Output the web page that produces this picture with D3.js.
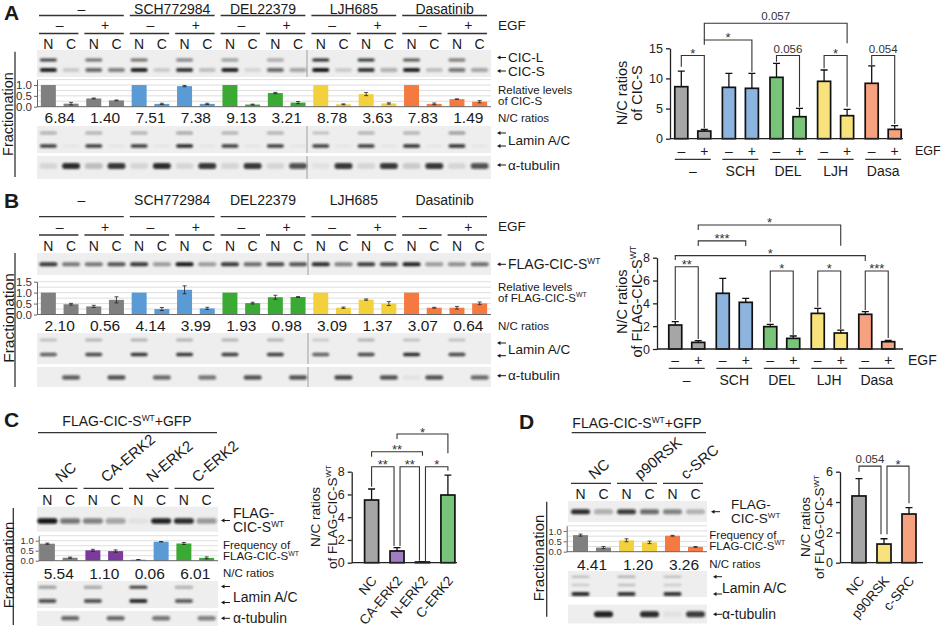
<!DOCTYPE html>
<html lang="en">
<head>
<meta charset="utf-8">
<title>CIC-S fractionation</title>
<script src="https://d3js.org/d3.v7.min.js"></script>
<style>
    body { margin: 0; background: #fff; }
    svg { font-family: Arial, "Liberation Sans", sans-serif; }
</style>
</head>
<body>
<script>
// ---------- data ----------
var treatments = ['\u2013', 'SCH772984', 'DEL22379', 'LJH685', 'Dasatinib'];
var treatShort = ['\u2013', 'SCH', 'DEL', 'LJH', 'Dasa'];
var egfSigns = ['\u2013', '+'];
var fracs = ['N', 'C'];

// A: western blot band intensities, lane order N-,C-,N+,C+ per treatment
var cicL = [0.8, 0, 0.6, 0, 0.6, 0, 0.5, 0, 0.4, 0, 0.35, 0, 0.9, 0, 0.85, 0, 0.7, 0, 0.55, 0];
var cicS = [0.95, 0.15, 0.6, 0.5, 0.95, 0.15, 0.85, 0.2, 0.95, 0.1, 0.6, 0.35, 1, 0.15, 0.85, 0.3, 0.95, 0.2, 0.55, 0.35];
var laminUpA = [0.3, 0, 0.3, 0, 0.3, 0, 0.35, 0, 0.3, 0, 0.3, 0, 0.2, 0, 0.3, 0, 0.3, 0, 0.4, 0];
var laminLoA = [0.8, 0.03, 0.8, 0.03, 0.8, 0.03, 0.9, 0.03, 0.8, 0.03, 0.8, 0.03, 0.8, 0.03, 0.8, 0.03, 0.85, 0.03, 0.85, 0.03];
var tubA = [0.1, 0.9, 0.2, 0.85, 0.1, 0.9, 0.1, 0.85, 0.1, 0.85, 0.1, 0.7, 0.05, 0.85, 0.1, 0.85, 0.15, 0.85, 0.1, 0.7];
// A: relative levels of CIC-S
var relA = [1.0, 0.14, 0.38, 0.29, 1.0, 0.13, 0.95, 0.13, 1.0, 0.10, 0.63, 0.19, 1.0, 0.11, 0.58, 0.15, 1.0, 0.13, 0.35, 0.23];
var relAErr = [0, 0.06, 0.02, 0.02, 0, 0.03, 0.03, 0.03, 0, 0.02, 0.03, 0.05, 0, 0.02, 0.07, 0.03, 0, 0.04, 0.01, 0.05];
var ratioA = ['6.84', '1.40', '7.51', '7.38', '9.13', '3.21', '8.78', '3.63', '7.83', '1.49'];
// A: N/C ratios of CIC-S (bar chart)
var ncA = [8.63, 1.27, 8.52, 8.36, 10.18, 3.65, 9.52, 3.82, 9.19, 1.55];
var ncASd = [2.57, 0.28, 2.33, 2.49, 2.32, 1.39, 1.88, 1.05, 2.91, 0.61];
// brackets: [bar i, bar j, label, top, left end, right end] in data units
var sigA = [[0, 1, '*', 13.8, 11.95, 1.75], [1, 3, '*', 16.38, 15.6, 11.12], [1, 7, '0.057', 19.15, 16.38, 15.83],
    [4, 5, '0.056', 13.8, 12.78, 5.31], [6, 7, '*', 13.8, 11.68, 5.31], [8, 9, '0.054', 13.8, 12.23, 2.44]];

// B
var flagB = [0.85, 0.55, 0.55, 0.7, 0.85, 0.4, 1.0, 0.4, 0.85, 0.6, 0.75, 0.7, 0.9, 0.5, 0.8, 0.75, 0.95, 0.4, 0.45, 0.6];
var laminUpB = [0.2, 0, 0.25, 0, 0.25, 0, 0.25, 0, 0.25, 0, 0.25, 0, 0.15, 0, 0.25, 0, 0.2, 0, 0.2, 0];
var laminLoB = [0.65, 0, 0.75, 0, 0.85, 0, 0.85, 0, 0.8, 0, 0.8, 0, 0.65, 0, 0.75, 0, 0.9, 0, 0.75, 0];
var tubB = [0, 0.65, 0, 0.7, 0, 0.6, 0, 0.55, 0, 0.7, 0, 0.7, 0, 0.75, 0, 0.7, 0.05, 0.7, 0, 0.6];
var relB = [1.0, 0.47, 0.37, 0.67, 1.0, 0.25, 1.13, 0.28, 1.0, 0.52, 0.79, 0.80, 1.0, 0.31, 0.68, 0.50, 1.0, 0.31, 0.31, 0.51];
var relBErr = [0, 0.04, 0.05, 0.14, 0, 0.07, 0.18, 0.05, 0, 0.04, 0.09, 0.02, 0, 0.03, 0.03, 0.09, 0, 0.02, 0.06, 0.06];
var ratioB = ['2.10', '0.56', '4.14', '3.99', '1.93', '0.98', '3.09', '1.37', '3.07', '0.64'];
var ncB = [2.10, 0.58, 4.88, 4.09, 1.96, 0.93, 3.12, 1.40, 3.04, 0.64];
var ncBSd = [0.29, 0.15, 1.31, 0.35, 0.20, 0.21, 0.44, 0.26, 0.23, 0.12];
var sigB = [[1, 7, '*', 10.87, 10.43, 9.05], [1, 3, '***', 9.47, 9.03, 9.03], [0, 8, '*', 8.18, 7.8, 7.71],
    [0, 1, '**', 7.21, 2.54, 0.88], [4, 5, '*', 6.84, 2.34, 1.23], [6, 7, '*', 6.84, 3.71, 1.75], [8, 9, '***', 6.84, 3.42, 0.96]];

// C
var groupsC = ['NC', 'CA-ERK2', 'N-ERK2', 'C-ERK2'];
var flagC = [1.0, 0.55, 0.5, 0.35, 0.05, 0.95, 0.9, 0.4];
var laminUpC = [0.4, 0, 0.35, 0, 0.8, 0, 0.3, 0];
var laminLoC = [0.7, 0, 0.7, 0, 0.9, 0, 0.65, 0];
var tubC = [0, 0.6, 0, 0.6, 0, 0.55, 0, 0.5];
var freqC = [0.85, 0.15, 0.52, 0.48, 0.05, 0.95, 0.86, 0.14];
var freqCErr = [0.03, 0.03, 0.05, 0.06, 0.01, 0.01, 0.05, 0.05];
var ratioC = ['5.54', '1.10', '0.06', '6.01'];
var ncC = [5.51, 1.03, 0.06, 5.95];
var ncCSd = [0.97, 0.29, 0.02, 1.75];
var sigC = [[0, 1, '**', 8.44, 6.68, 1.47], [1, 2, '**', 8.44, 1.47, 0.18], [2, 3, '*', 8.44, 0.09, 8.09],
    [0, 2, '**', 9.76, 9.32, 9.41], [1, 3, '*', 11.31, 10.87, 9.62]];

// D
var groupsD = ['NC', 'p90RSK', 'c-SRC'];
var flagD = [0.9, 0.3, 0.8, 0.6, 0.5, 0.25];
var laminUpD = [0.2, 0, 0.25, 0, 0.2, 0];
var laminMidD = [0.15, 0, 0.2, 0, 0.15, 0];
var laminLoD = [0.9, 0, 0.85, 0, 0.85, 0];
var tubD = [0, 0.95, 0, 0.9, 0.05, 0.8];
var freqD = [0.80, 0.20, 0.55, 0.45, 0.77, 0.23];
var freqDErr = [0.05, 0.05, 0.07, 0.06, 0.02, 0.02];
var ratioD = ['4.41', '1.20', '3.26'];
var ncD = [4.40, 1.23, 3.21];
var ncDSd = [1.14, 0.35, 0.42];
var sigD = [[0, 1, '0.054', 6.37, 6.0, 1.87], [1, 2, '*', 6.37, 1.87, 3.92]];

// palettes
var dark = { gray: '#808080', blue: '#5b9bd5', green: '#3aaa35', yellow: '#f2d13c', orange: '#f47a42', purple: '#7a3b9c' };
var light = { gray: '#a6a6a6', blue: '#8cb4de', green: '#78c57a', yellow: '#f7e27b', orange: '#f6a27e', purple: '#a07cc0' };
var keysAB = ['gray', 'blue', 'green', 'yellow', 'orange'];
var keysC = ['gray', 'purple', 'blue', 'green'];
var keysD = ['gray', 'yellow', 'orange'];

// ---------- canvas ----------
var svg = d3.select('body').append('svg').attr('width', 941).attr('height', 630);
svg.append('defs').append('filter').attr('id', 'blur')
    .attr('x', '-40%').attr('y', '-300%').attr('width', '180%').attr('height', '700%')
    .append('feGaussianBlur').attr('stdDeviation', 1);

var INK = '#1a1a1a';
function label(g, x, y, s, size, anchor) {
    return g.append('text').attr('x', x).attr('y', y).attr('font-size', size)
        .attr('text-anchor', anchor || 'start').attr('dominant-baseline', 'central')
        .attr('fill', INK).text(s);
}
// text with a superscript "WT" (alphabetic baseline, y is the visual centre)
function labelWT(g, x, y, pre, post, size, anchor) {
    var t = g.append('text').attr('x', x).attr('y', y + size * 0.36).attr('font-size', size)
        .attr('text-anchor', anchor || 'start').attr('fill', INK);
    t.append('tspan').text(pre);
    t.append('tspan').attr('font-size', size * 0.6).attr('dy', -size * 0.38).text('WT');
    if (post) t.append('tspan').attr('dy', size * 0.38).text(post);
    return t;
}
function hline(g, x1, x2, y) {
    g.append('line').attr('x1', x1).attr('x2', x2).attr('y1', y).attr('y2', y)
        .attr('stroke', '#333').attr('stroke-width', 1.3);
}
function arrow(g, x, y) {
    g.append('path').attr('d', 'M' + (x + 9) + ',' + y + 'H' + (x + 2)).attr('stroke', INK).attr('stroke-width', 1);
    g.append('path').attr('d', 'M' + x + ',' + y + 'l3.5,-2v4z').attr('fill', INK);
}
function mid(s, i) { return s(i) + s.bandwidth() / 2; }

function blot(g, lane, x0, x1, y0, y1, rows, splitX) {
    g.append('rect').attr('x', x0).attr('y', y0).attr('width', x1 - x0).attr('height', y1 - y0).attr('fill', '#eeeeee');
    rows.forEach(function (r) {
        g.append('g').attr('filter', 'url(#blur)').selectAll('rect').data(r.v).join('rect')
            .attr('x', function (d, i) { return mid(lane, i) - r.w / 2; })
            .attr('y', r.y - r.h / 2).attr('width', r.w).attr('height', r.h).attr('rx', r.h / 2)
            .attr('fill', '#141414').attr('fill-opacity', function (d) { return d; });
    });
    if (splitX) g.append('line').attr('x1', splitX).attr('x2', splitX).attr('y1', y0).attr('y2', y1)
        .attr('stroke', '#8a8a8a').attr('stroke-width', 0.8);
}

function mini(g, lane, xa, xb, y, ticks, vals, errs, col, tickSize) {
    var top = y.domain()[1];
    g.append('g').selectAll('line').data(d3.range(0.25, top + 1e-9, 0.25)).join('line')
        .attr('x1', xa).attr('x2', xb).attr('y1', function (d) { return y(d); }).attr('y2', function (d) { return y(d); })
        .attr('stroke', '#d6d6d6').attr('stroke-width', 0.8);
    var bw = 15;
    g.append('g').selectAll('rect').data(vals).join('rect')
        .attr('x', function (d, i) { return mid(lane, i) - bw / 2; })
        .attr('y', function (d) { return y(d); })
        .attr('width', bw).attr('height', function (d) { return y(0) - y(d); })
        .attr('fill', function (d, i) { return col(i); });
    var eb = g.append('g').attr('stroke', '#222').attr('stroke-width', 0.8).attr('fill', 'none');
    vals.forEach(function (d, i) {
        if (!errs[i]) return;
        var c = mid(lane, i), hi = y(d + errs[i]), lo = y(Math.max(0, d - errs[i]));
        eb.append('path').attr('d', 'M' + (c - 2) + ',' + hi + 'h4M' + c + ',' + hi + 'V' + lo + 'M' + (c - 2) + ',' + lo + 'h4');
    });
    g.append('line').attr('x1', xa).attr('x2', xb).attr('y1', y(0)).attr('y2', y(0)).attr('stroke', '#666');
    var ax = g.append('g').attr('transform', 'translate(' + xa + ',0)')
        .call(d3.axisLeft(y).tickValues(ticks).tickFormat(d3.format('.1f')).tickSize(3).tickSizeOuter(0).tickPadding(2));
    ax.attr('font-family', null);
    ax.selectAll('text').attr('font-size', tickSize).attr('fill', '#333');
    ax.selectAll('.domain, .tick line').attr('stroke', '#666');
}

function ncChart(g, cx, bw, y, vals, sds, fills, sig, xa, xb, ticks) {
    g.append('g').selectAll('rect').data(vals).join('rect')
        .attr('x', function (d, i) { return cx(i) - bw / 2; })
        .attr('y', function (d) { return y(d); })
        .attr('width', bw).attr('height', function (d) { return y(0) - y(d); })
        .attr('fill', function (d, i) { return fills[i]; })
        .attr('stroke', '#111').attr('stroke-width', 1.7);
    vals.forEach(function (d, i) {
        var t = y(d + sds[i]);
        g.append('path').attr('d', 'M' + cx(i) + ',' + y(d) + 'V' + t + 'M' + (cx(i) - 3.5) + ',' + t + 'h7')
            .attr('stroke', '#111').attr('stroke-width', 1.3).attr('fill', 'none');
    });
    g.append('line').attr('x1', xa).attr('x2', xb).attr('y1', y(0)).attr('y2', y(0))
        .attr('stroke', '#222').attr('stroke-width', 1.3);
    var ax = g.append('g').attr('transform', 'translate(' + xa + ',0)')
        .call(d3.axisLeft(y).tickValues(ticks).tickFormat(d3.format('d')).tickSize(4).tickSizeOuter(0).tickPadding(3));
    ax.attr('font-family', null);
    ax.selectAll('text').attr('font-size', 12.5).attr('fill', '#222');
    ax.selectAll('.domain, .tick line').attr('stroke', '#222').attr('stroke-width', 1.3);
    sig.forEach(function (b, k) {
        var nl = sig.some(function (o, m) { return m !== k && o[1] === b[0] && o[3] === b[3]; }) ? 3 : 0;
        var nr = sig.some(function (o, m) { return m !== k && o[0] === b[1] && o[3] === b[3]; }) ? -3 : 0;
        var x1 = cx(b[0]) + nl, x2 = cx(b[1]) + nr, yt = y(b[3]);
        g.append('path').attr('d', 'M' + x1 + ',' + y(b[4]) + 'V' + yt + 'H' + x2 + 'V' + y(b[5]))
            .attr('fill', 'none').attr('stroke', '#333').attr('stroke-width', 1.1);
        var star = b[2].charAt(0) === '*';
        g.append('text').attr('x', (x1 + x2) / 2).attr('y', star ? yt + 2.5 : yt - 3)
            .attr('text-anchor', 'middle').attr('font-size', star ? 13 : 11.5).attr('fill', '#333').text(b[2]);
    });
}
function yTitle(g, x1, x2, yc, line2pre, wt, size) {
    label(g, 0, 0, 'N/C ratios', size, 'middle').attr('transform', 'translate(' + x1 + ',' + yc + ') rotate(-90)');
    var t = wt ? labelWT(g, 0, 0, line2pre, null, size, 'middle') : label(g, 0, 0, line2pre, size, 'middle');
    t.attr('transform', 'translate(' + x2 + ',' + yc + ') rotate(-90)');
}
function fraction(g, x, yc, x2, y1, y2, size) {
    label(g, 0, 0, 'Fractionation', size, 'middle').attr('transform', 'translate(' + x + ',' + yc + ') rotate(-90)');
    g.append('line').attr('x1', x2).attr('x2', x2).attr('y1', y1).attr('y2', y2).attr('stroke', '#333').attr('stroke-width', 1.3);
}

// ---------- panels A & B : blots ----------
var laneAB = d3.scaleBand().domain(d3.range(20)).range([37, 491]);
function headerAB(g, yT, yTL, yE, yEL, yN) {
    treatments.forEach(function (t, k) {
        var x1 = laneAB(4 * k) + 2, x2 = laneAB(4 * k + 3) + laneAB.bandwidth() - 4;
        label(g, (x1 + x2) / 2, yT, t, 14, 'middle');
        hline(g, x1, x2, yTL);
        [0, 1].forEach(function (e) {
            var a = laneAB(4 * k + 2 * e) + 2, b = laneAB(4 * k + 2 * e + 1) + laneAB.bandwidth() - 4;
            label(g, (a + b) / 2 + 1, yE, egfSigns[e], 14, 'middle');
            hline(g, a, b, yEL);
        });
    });
    d3.range(20).forEach(function (i) { label(g, mid(laneAB, i), yN, fracs[i % 2], 14, 'middle'); });
    label(g, 498, yE, 'EGF', 13.5);
}
function ratios(g, lane, vals, y) {
    vals.forEach(function (v, p) { label(g, (mid(lane, 2 * p) + mid(lane, 2 * p + 1)) / 2, y, v, 15.5, 'middle'); });
}
var colAB = function (i) { return dark[keysAB[Math.floor(i / 4)]]; };

var gA = svg.append('g');
label(gA, 4, 12, 'A', 21).attr('font-weight', 'bold');
headerAB(gA, 8.5, 15.5, 25, 33.5, 43.5);
blot(gA, laneAB, 37, 491, 50, 77, [{ y: 60, w: 17, h: 3.2, v: cicL }, { y: 70, w: 17, h: 3.8, v: cicS }], 307);
mini(gA, laneAB, 37, 491, d3.scaleLinear().domain([0, 1.25]).range([106.7, 79.6]), [0, 0.5, 1], relA, relAErr, colAB, 11.5);
ratios(gA, laneAB, ratioA, 117.5);
blot(gA, laneAB, 37, 491, 126, 153, [{ y: 133, w: 17, h: 3, v: laminUpA }, { y: 146, w: 17, h: 3.6, v: laminLoA }], 307);
blot(gA, laneAB, 37, 491, 156, 179, [{ y: 166, w: 18, h: 6, v: tubA }], 307);
arrow(gA, 497, 57.5); label(gA, 508, 57, 'CIC-L', 13.5);
arrow(gA, 497, 71); label(gA, 508, 71.5, 'CIC-S', 13.5);
label(gA, 498, 90, 'Relative levels', 11.5); label(gA, 498, 101, 'of CIC-S', 11.5);
label(gA, 498, 117.5, 'N/C ratios', 11.5);
arrow(gA, 497, 133); arrow(gA, 497, 146); label(gA, 508, 140, 'Lamin A/C', 13.5);
arrow(gA, 497, 165); label(gA, 508, 165, '\u03b1-tubulin', 13.5);
fraction(gA, 8, 114, 15, 51.7, 177, 14.5);

var gB = svg.append('g');
label(gB, 4, 200, 'B', 21).attr('font-weight', 'bold');
headerAB(gB, 200, 216.7, 226.7, 235, 245.5);
blot(gB, laneAB, 37, 491, 253, 275, [{ y: 264.3, w: 18, h: 4, v: flagB }], 308);
mini(gB, laneAB, 37, 491, d3.scaleLinear().domain([0, 1.5]).range([314.5, 281.7]), [0, 0.5, 1, 1.5], relB, relBErr, colAB, 11.5);
ratios(gB, laneAB, ratioB, 325.5);
blot(gB, laneAB, 37, 491, 333, 364, [{ y: 340, w: 17, h: 2.8, v: laminUpB }, { y: 354.5, w: 17, h: 3.6, v: laminLoB }], 308);
blot(gB, laneAB, 37, 491, 367, 387, [{ y: 377.5, w: 18, h: 4.5, v: tubB }], 308);
arrow(gB, 497, 264.3); labelWT(gB, 508, 264.3, 'FLAG-CIC-S', null, 14);
label(gB, 498, 286.5, 'Relative levels', 11.5); labelWT(gB, 498, 297.5, 'of FLAG-CIC-S', null, 11.5);
label(gB, 498, 325.5, 'N/C ratios', 11.5);
arrow(gB, 497, 343); arrow(gB, 497, 355.7); label(gB, 508, 349, 'Lamin A/C', 13.5);
arrow(gB, 497, 375.7); label(gB, 508, 375.7, '\u03b1-tubulin', 13.5);
fraction(gB, 8, 318, 15, 253, 387, 15.5);

// ---------- panels A & B : bar charts ----------
function pairedX(x0, x1) {
    var gx = d3.scaleBand().domain(d3.range(5)).range([x0, x1]);
    var inner = d3.scaleBand().domain([0, 1]).range([0, gx.bandwidth()]).paddingInner(0.435).paddingOuter(0.252);
    var f = function (i) { return gx(Math.floor(i / 2)) + inner(i % 2) + inner.bandwidth() / 2; };
    f.bw = inner.bandwidth();
    return f;
}
var fillAB = d3.range(10).map(function (i) { return light[keysAB[Math.floor(i / 2)]]; });
function chartLabelsAB(g, cx, yS, egfX, egfSize) {
    d3.range(10).forEach(function (i) { label(g, cx(i), yS, egfSigns[i % 2], 14, 'middle'); });
    treatShort.forEach(function (t, k) {
        hline(g, cx(2 * k) - cx.bw / 2, cx(2 * k + 1) + cx.bw / 2, yS + 8.3);
        label(g, (cx(2 * k) + cx(2 * k + 1)) / 2, yS + 19.5, t, 14, 'middle');
    });
    label(g, egfX, yS, 'EGF', egfSize);
}
var cxA = pairedX(669, 907);
var yA = d3.scaleLinear().domain([0, 15]).range([138.7, 48.3]);
ncChart(gA, cxA, cxA.bw, yA, ncA, ncASd, fillAB, sigA, 670, 903, [0, 5, 10, 15]);
chartLabelsAB(gA, cxA, 151, 915, 12.5);
yTitle(gA, 621.7, 636.7, 93, 'of CIC-S', false, 14.5);

var cxB = pairedX(663, 900.5);
var yB = d3.scaleLinear().domain([0, 8]).range([349, 257.7]);
ncChart(gB, cxB, cxB.bw, yB, ncB, ncBSd, fillAB, sigB, 657, 903, [0, 2, 4, 6, 8]);
chartLabelsAB(gB, cxB, 360, 908, 14);
yTitle(gB, 621.7, 636.7, 301.7, 'of FLAG-CIC-S', true, 14.5);

// ---------- panels C & D ----------
function headerCD(g, lane, names, yLine, yN, rotY) {
    names.forEach(function (n, p) {
        var a = lane(2 * p) + 2, b = lane(2 * p + 1) + lane.bandwidth() - 4;
        hline(g, a, b, yLine);
        var pc = (mid(lane, 2 * p) + mid(lane, 2 * p + 1)) / 2;
        g.append('text').attr('transform', 'translate(' + (pc + 2) + ',' + rotY + ') rotate(-40)')
            .attr('font-size', 15).attr('fill', INK).text(n);
    });
    d3.range(names.length * 2).forEach(function (i) { label(g, mid(lane, i), yN, fracs[i % 2], 14, 'middle'); });
}
function xRot(g, cx, names, yb) {
    names.forEach(function (n, i) {
        g.append('text').attr('transform', 'translate(' + (cx(i) + 6) + ',' + yb + ') rotate(-50)')
            .attr('text-anchor', 'end').attr('font-size', 13.5).attr('fill', INK).text(n);
    });
}

var gC = svg.append('g');
var laneC = d3.scaleBand().domain(d3.range(8)).range([36, 218]);
label(gC, 4, 419, 'C', 21).attr('font-weight', 'bold');
labelWT(gC, 127, 421, 'FLAG-CIC-S', '+GFP', 14, 'middle');
hline(gC, 38, 217, 432.7);
headerCD(gC, laneC, groupsC, 488.3, 500, 483);
blot(gC, laneC, 37, 218, 506.7, 531.7, [{ y: 521, w: 20, h: 5.5, v: flagC }]);
mini(gC, laneC, 38.7, 218, d3.scaleLinear().domain([0, 1.25]).range([560.7, 535.7]), [0, 0.5, 1], freqC, freqCErr,
    function (i) { return dark[keysC[Math.floor(i / 2)]]; }, 9.5);
ratios(gC, laneC, ratioC, 573.3);
blot(gC, laneC, 37, 218, 581, 608, [{ y: 587.3, w: 18, h: 3, v: laminUpC }, { y: 601, w: 18, h: 3.8, v: laminLoC }]);
blot(gC, laneC, 37, 218, 611, 626, [{ y: 618.3, w: 18, h: 4.5, v: tubC }]);
arrow(gC, 221, 520.5); label(gC, 233, 512.5, 'FLAG-', 14); labelWT(gC, 233, 527, 'CIC-S', null, 14);
label(gC, 223, 545, 'Frequency of', 11.5); labelWT(gC, 223, 556, 'FLAG-CIC-S', null, 11.5);
label(gC, 223, 573.3, 'N/C ratios', 11.5);
arrow(gC, 221, 586.5); arrow(gC, 221, 602.5); label(gC, 233, 596.7, 'Lamin A/C', 14);
arrow(gC, 221, 618.3); label(gC, 233, 618.3, '\u03b1-tubulin', 14);
fraction(gC, 8, 565, 13.3, 508, 625, 15);

var xC = d3.scaleBand().domain(d3.range(4)).range([359, 460.5]).paddingInner(0.45).paddingOuter(0.22);
var cxC = function (i) { return mid(xC, i); };
var yC = d3.scaleLinear().domain([0, 8]).range([562.7, 471.7]);
ncChart(gC, cxC, xC.bandwidth(), yC, ncC, ncCSd, keysC.map(function (k) { return light[k]; }), sigC, 351.7, 457, [0, 2, 4, 6, 8]);
xRot(gC, cxC, groupsC, 581);
yTitle(gC, 315, 331.7, 517, 'of FLAG-CIC-S', true, 13.5);

var gD = svg.append('g');
var laneD = d3.scaleBand().domain(d3.range(6)).range([569, 707]);
label(gD, 519, 421, 'D', 21).attr('font-weight', 'bold');
labelWT(gD, 637, 423, 'FLAG-CIC-S', '+GFP', 14, 'middle');
hline(gD, 571.7, 706, 432.7);
headerCD(gD, laneD, groupsD, 483.3, 493.5, 480);
blot(gD, laneD, 568, 707, 501, 522, [{ y: 511.7, w: 19, h: 5, v: flagD }]);
mini(gD, laneD, 566.7, 707, d3.scaleLinear().domain([0, 1.25]).range([551.7, 525.8]), [0, 0.5, 1], freqD, freqDErr,
    function (i) { return dark[keysD[Math.floor(i / 2)]]; }, 9.5);
ratios(gD, laneD, ratioD, 564.3);
blot(gD, laneD, 568, 707, 571, 597, [{ y: 576.7, w: 18, h: 2.5, v: laminUpD }, { y: 585, w: 18, h: 2.5, v: laminMidD },
    { y: 594, w: 18, h: 4, v: laminLoD }]);
blot(gD, laneD, 568, 707, 604.5, 623.5, [{ y: 614.3, w: 19, h: 6, v: tubD }]);
arrow(gD, 711, 511.7); label(gD, 731, 504, 'FLAG-', 13.5); labelWT(gD, 731, 518.5, 'CIC-S', null, 13.5);
label(gD, 709.3, 535, 'Frequency of', 11.5); labelWT(gD, 709.3, 545.5, 'FLAG-CIC-S', null, 11.5);
label(gD, 709.3, 564.3, 'N/C ratios', 11.5);
arrow(gD, 713, 576.7); arrow(gD, 713, 594); label(gD, 722, 587.7, 'Lamin A/C', 14);
arrow(gD, 713, 614.3); label(gD, 722, 614.3, '\u03b1-tubulin', 14);
fraction(gD, 538, 558, 546.7, 501.7, 616.7, 15);

var xD = d3.scaleBand().domain(d3.range(3)).range([844.5, 923.5]).paddingInner(0.44).paddingOuter(0.3);
var cxD = function (i) { return mid(xD, i); };
var yD = d3.scaleLinear().domain([0, 6]).range([562.7, 471.7]);
ncChart(gD, cxD, xD.bandwidth(), yD, ncD, ncDSd, keysD.map(function (k) { return light[k]; }), sigD, 840, 923, [0, 2, 4, 6]);
xRot(gD, cxD, groupsD, 581);
yTitle(gD, 805, 819.3, 527, 'of FLAG-CIC-S', true, 13.5);
</script>
</body>
</html>
